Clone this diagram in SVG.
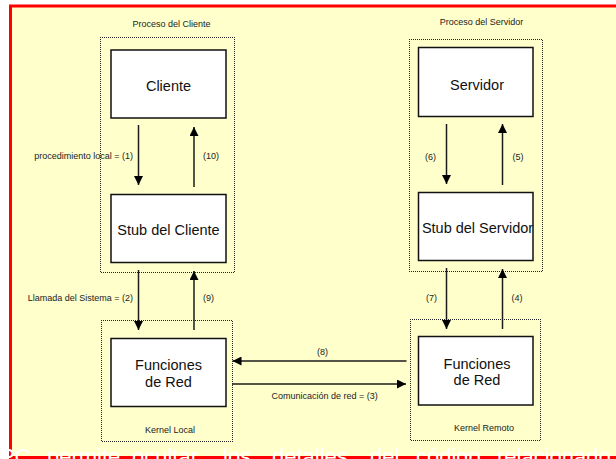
<svg xmlns="http://www.w3.org/2000/svg" width="616" height="459" viewBox="0 0 616 459">
<style>
.bg{fill:#FFFFCC;stroke:#FF0000;stroke-width:3}
.grp{fill:none;stroke:#222;stroke-width:1;stroke-dasharray:1 1;stroke-dashoffset:0.5;shape-rendering:crispEdges}
.node{fill:#FFFFFF;stroke:#111;stroke-width:1.5}
.nt{font-family:"Liberation Sans",Arial,sans-serif;font-size:14.5px;fill:#111;text-anchor:middle}
.lb{font-family:"Liberation Sans",Arial,sans-serif;font-size:9px;fill:#222}
.mid{text-anchor:middle}
.end{text-anchor:end}
.conn line{stroke:#1a1a1a;stroke-width:1.5;marker-end:url(#ah)}
.foot{font-family:"Liberation Sans",Arial,sans-serif;font-size:22px;fill:#FFFFFF}
</style>
<defs>
<marker id="ah" viewBox="0 0 10 10" refX="10" refY="5" markerWidth="9" markerHeight="9" markerUnits="userSpaceOnUse" orient="auto">
<path d="M0,0 L10,5 L0,10 z" fill="#000"/>
</marker>
</defs>
<rect class="bg" x="10.5" y="6" width="640" height="451.5"/>

<g id="proceso-cliente">
<rect class="grp" x="100.5" y="37.5" width="134" height="235"/>
<text class="lb mid" x="171.5" y="27">Proceso del Cliente</text>
</g>
<g id="proceso-servidor">
<rect class="grp" x="409.5" y="39.5" width="133" height="232"/>
<text class="lb mid" x="481.5" y="25">Proceso del Servidor</text>
</g>
<g id="kernel-local">
<rect class="grp" x="101.5" y="320.5" width="131" height="121"/>
<text class="lb mid" x="170" y="433">Kernel Local</text>
</g>
<g id="kernel-remoto">
<rect class="grp" x="410.5" y="319.5" width="130" height="121"/>
<text class="lb mid" x="484" y="431">Kernel Remoto</text>
</g>

<g id="cliente">
<rect class="node" x="111" y="50" width="115" height="68"/>
<text class="nt" x="168.5" y="90.5">Cliente</text>
</g>
<g id="stub-cliente">
<rect class="node" x="111" y="194.5" width="115" height="68"/>
<text class="nt" x="168.5" y="235">Stub del Cliente</text>
</g>
<g id="funciones-local">
<rect class="node" x="111" y="338.5" width="115" height="68"/>
<text class="nt" x="168.5" y="369.5">Funciones</text>
<text class="nt" x="168.5" y="386.5">de Red</text>
</g>
<g id="servidor">
<rect class="node" x="418.5" y="47.5" width="114.5" height="69"/>
<text class="nt" x="477" y="89.5">Servidor</text>
</g>
<g id="stub-servidor">
<rect class="node" x="418.5" y="192.5" width="114.5" height="68"/>
<text class="nt" x="477.5" y="233">Stub del Servidor</text>
</g>
<g id="funciones-remoto">
<rect class="node" x="418.5" y="336.5" width="114.5" height="68.5"/>
<text class="nt" x="477" y="368.5">Funciones</text>
<text class="nt" x="477" y="385">de Red</text>
</g>

<g id="connectors" class="conn">
<line x1="138.5" y1="125" x2="138.5" y2="185"/>
<line x1="194" y1="187" x2="194" y2="127"/>
<line x1="138.5" y1="270" x2="138.5" y2="330"/>
<line x1="194" y1="330" x2="194" y2="271"/>
<line x1="446.5" y1="124" x2="446.5" y2="184"/>
<line x1="502.5" y1="185" x2="502.5" y2="124"/>
<line x1="446.5" y1="268" x2="446.5" y2="329"/>
<line x1="502.5" y1="329" x2="502.5" y2="269"/>
<line x1="406.5" y1="361" x2="232.5" y2="361"/>
<line x1="232" y1="384" x2="406" y2="384"/>
</g>

<g id="connector-labels">
<text class="lb end" x="133" y="159">procedimiento local = (1)</text>
<text class="lb" x="203" y="159">(10)</text>
<text class="lb end" x="133" y="301">Llamada del Sistema = (2)</text>
<text class="lb" x="203" y="301">(9)</text>
<text class="lb" x="425" y="160">(6)</text>
<text class="lb" x="512.5" y="160">(5)</text>
<text class="lb" x="426" y="301">(7)</text>
<text class="lb" x="511.5" y="301">(4)</text>
<text class="lb" x="317" y="355">(8)</text>
<text class="lb" x="271.5" y="398.5">Comunicación de red = (3)</text>
</g>

<text class="foot" y="464"><tspan x="-16">RPC</tspan><tspan x="47">permite</tspan><tspan x="132">ocultar</tspan><tspan x="223">los</tspan><tspan x="272">detalles</tspan><tspan x="370">del</tspan><tspan x="416">código</tspan><tspan x="497">relacionado</tspan></text>
</svg>
